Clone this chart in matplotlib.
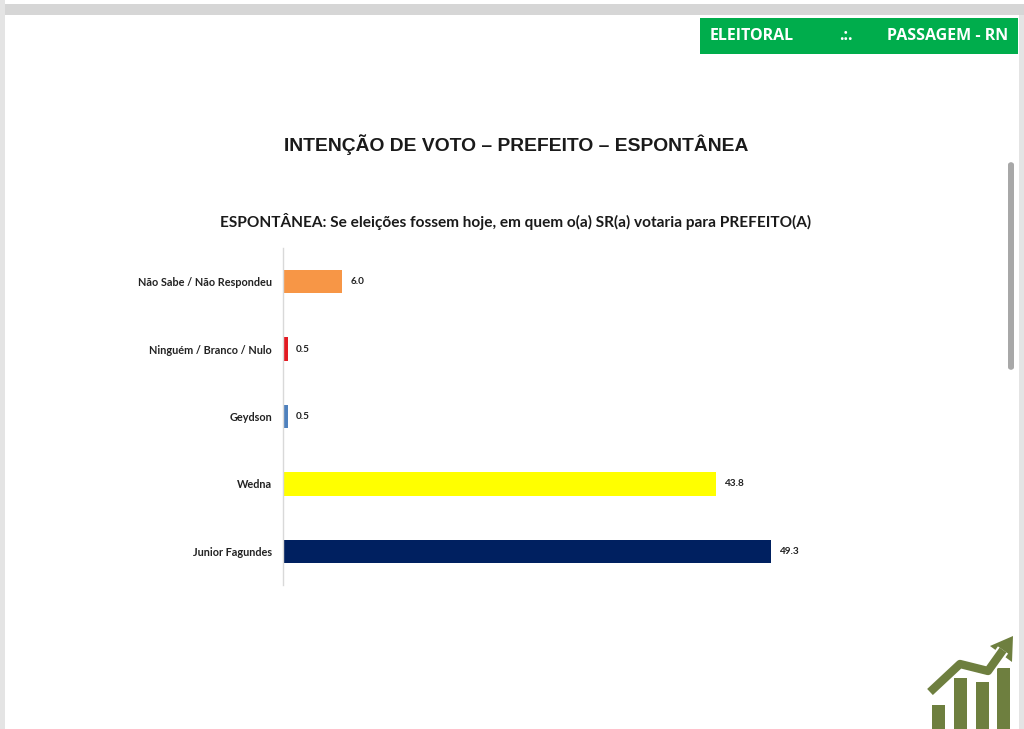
import matplotlib.pyplot as plt
from matplotlib.patches import Rectangle, FancyBboxPatch, Polygon
from matplotlib.lines import Line2D

# data
labels = ["Junior Fagundes", "Wedna", "Geydson", "Ninguém / Branco / Nulo", "Não Sabe / Não Respondeu"]
values = [49.3, 43.8, 0.5, 0.5, 6.0]
colors = ["#002060", "#FFFF00", "#4F81BD", "#E31B23", "#F79646"]

W, H = 1024, 729
fig = plt.figure(figsize=(W / 100, H / 100), dpi=100)
fig.patch.set_facecolor("white")

def fx(px):
    return px / W

def fy(py):
    return 1 - py / H

# screenshot frame: grey band at the top, scrollbar on the right
fig.patches.append(Rectangle((0, fy(15)), 1, fy(4) - fy(15), transform=fig.transFigure,
                             facecolor="#d6d6d6", edgecolor="none"))
fig.patches.append(Rectangle((0, 0), fx(5), 1, transform=fig.transFigure,
                             facecolor="#e4e4e4", edgecolor="none"))
fig.patches.append(Rectangle((fx(1019), 0), fx(5), fy(15), transform=fig.transFigure,
                             facecolor="#e4e4e4", edgecolor="none"))
fig.patches.append(FancyBboxPatch((fx(1008), fy(370)), fx(6), fy(162) - fy(370),
                                  boxstyle="round,pad=0,rounding_size=0.004",
                                  transform=fig.transFigure, facecolor="#a8a8a8", edgecolor="none"))

# green header box
fig.patches.append(Rectangle((fx(700), fy(54)), fx(1018) - fx(700), fy(18) - fy(54),
                             transform=fig.transFigure, facecolor="#00AD4C", edgecolor="none"))
hdr = dict(color="white", fontsize=11.5, fontweight="bold", family="Open Sans", va="center")
fig.text(fx(710), fy(36), "ELEITORAL", ha="left", **hdr)
fig.text(fx(846), fy(36), ".:.", ha="center", **hdr)
fig.text(fx(1008), fy(36), "PASSAGEM - RN", ha="right", **hdr)

# titles
fig.text(fx(516), fy(145), "INTENÇÃO DE VOTO – PREFEITO – ESPONTÂNEA", ha="center", va="center",
         fontsize=13.9, fontweight="bold", family="Liberation Sans", color="#1a1a1a")
fig.text(fx(516), fy(221), "ESPONTÂNEA: Se eleições fossem hoje, em quem o(a) SR(a) votaria para PREFEITO(A)",
         ha="center", va="center", fontsize=11.1, fontweight="bold", family="Lato", color="#1a1a1a")

# chart
ax = fig.add_axes([fx(283), fy(585), fx(827) - fx(283), fy(248) - fy(585)])
ypos = list(range(len(labels)))
bars = ax.barh(ypos, values, height=0.35, color=colors)
ax.set_xlim(0, 55)
ax.set_ylim(-0.5, len(labels) - 0.5)
ax.set_yticks(ypos)
ax.set_yticklabels(labels, fontsize=7.8, fontweight="bold", family="Lato", color="#222222")
ax.tick_params(axis="y", length=0, pad=8)
ax.set_xticks([])
for s in ["top", "right", "bottom"]:
    ax.spines[s].set_visible(False)
ax.spines["left"].set_color("#d9d9d9")
ax.spines["left"].set_linewidth(1)
for b, v in zip(bars, values):
    ax.text(b.get_width() + 0.8, b.get_y() + b.get_height() / 2, f"{v:.1f}",
            va="center", ha="left", fontsize=7.2, fontweight="bold", family="Lato", color="#222222")

# logo bottom right
olive = "#6E7F3F"
for x0, top in [(932, 705), (954, 678), (976, 682), (997, 668)]:
    fig.patches.append(Rectangle((fx(x0), 0), fx(13), fy(top), transform=fig.transFigure,
                                 facecolor=olive, edgecolor="none"))
fig.lines.append(Line2D([fx(930), fx(960), fx(988), fx(1003)], [fy(692), fy(664), fy(671), fy(650)],
                        transform=fig.transFigure, color="white", linewidth=9, solid_capstyle="butt"))
fig.lines.append(Line2D([fx(930), fx(960), fx(988), fx(1003)], [fy(692), fy(664), fy(671), fy(650)],
                        transform=fig.transFigure, color=olive, linewidth=6, solid_capstyle="butt"))
fig.patches.append(Polygon([(fx(1013), fy(636)), (fx(990), fy(646)), (fx(1012), fy(662))],
                           closed=True, transform=fig.transFigure, facecolor=olive, edgecolor="none"))

fig.savefig("out.png", dpi=100)
